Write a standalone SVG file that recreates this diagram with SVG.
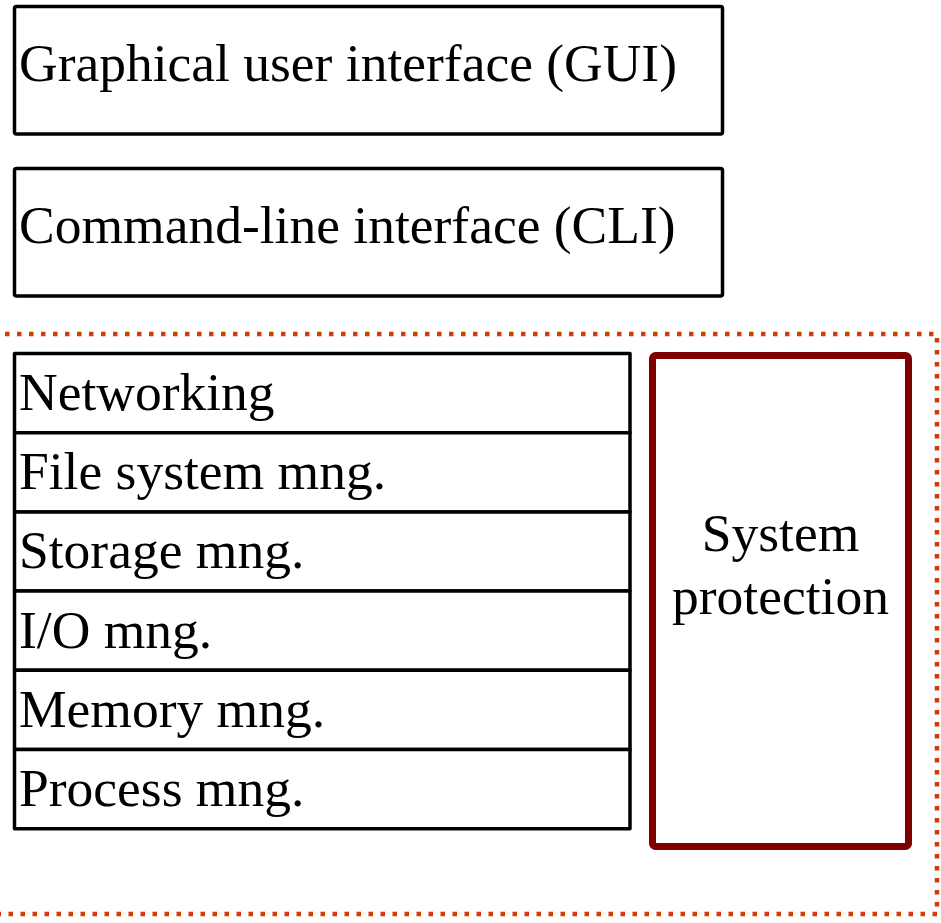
<svg xmlns="http://www.w3.org/2000/svg" width="941" height="923" viewBox="0 0 941 923">
  <style>
    .box { fill: #ffffff; stroke: #000000; stroke-width: 3.5; stroke-linejoin: round; }
    .label { font-family: "Liberation Serif", "Times New Roman", serif; font-size: 53.5px; fill: #000000; }
    .kernel { fill: none; stroke: #d4390a; stroke-width: 4.5; stroke-dasharray: 4.5 7.5; }
    .protect { fill: #ffffff; stroke: #800000; stroke-width: 7; stroke-linejoin: round; }
  </style>
  <rect width="941" height="923" fill="#ffffff"/>

  <!-- kernel boundary (dotted) -->
  <g id="kernel-boundary">
    <path class="kernel" d="M5,334 H937 V914 H0"/>
  </g>

  <!-- user interface layers -->
  <g id="gui">
    <rect class="box" x="14.5" y="6.5" width="708" height="127.5" rx="2"/>
    <text class="label" x="19" y="81">Graphical user interface (GUI)</text>
  </g>
  <g id="cli">
    <rect class="box" x="14.5" y="168.5" width="708" height="127.5" rx="2"/>
    <text class="label" x="19" y="243">Command-line interface (CLI)</text>
  </g>

  <!-- kernel service stack -->
  <g id="networking">
    <rect class="box" x="14.5" y="353.5" width="615.5" height="79.2"/>
    <text class="label" x="19" y="410">Networking</text>
  </g>
  <g id="file-system">
    <rect class="box" x="14.5" y="432.7" width="615.5" height="79.2"/>
    <text class="label" x="19" y="489">File system mng.</text>
  </g>
  <g id="storage">
    <rect class="box" x="14.5" y="511.9" width="615.5" height="79.2"/>
    <text class="label" x="19" y="568">Storage mng.</text>
  </g>
  <g id="io">
    <rect class="box" x="14.5" y="591.1" width="615.5" height="79.2"/>
    <text class="label" x="19" y="647.5">I/O mng.</text>
  </g>
  <g id="memory">
    <rect class="box" x="14.5" y="670.3" width="615.5" height="79.2"/>
    <text class="label" x="19" y="727">Memory mng.</text>
  </g>
  <g id="process">
    <rect class="box" x="14.5" y="749.5" width="615.5" height="79.2"/>
    <text class="label" x="19" y="806">Process mng.</text>
  </g>

  <!-- cross-cutting protection column -->
  <g id="system-protection">
    <rect class="protect" x="652.5" y="355.5" width="256" height="491" rx="3"/>
    <text class="label" x="780.5" y="551" text-anchor="middle">System</text>
    <text class="label" x="780.5" y="614" text-anchor="middle">protection</text>
  </g>

  <g id="connectors"/>
</svg>
